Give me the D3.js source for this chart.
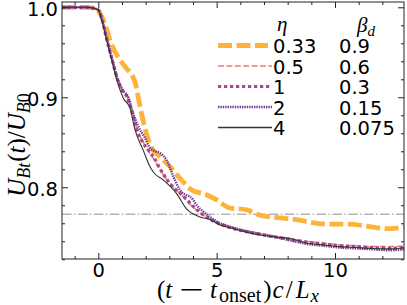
<!DOCTYPE html>
<html>
<head>
<meta charset="utf-8">
<script src="https://cdn.jsdelivr.net/npm/d3@7"></script>
<style>
  body { margin: 0; background: #fff; }
  svg text { fill: #000; }
</style>
</head>
<body>
<svg id="chart" width="407" height="305"></svg>
<script>
// values
var etaLabels = ["0.33", "0.5", "1", "2", "4"];
var betaLabels = ["0.9", "0.6", "0.3", "0.15", "0.075"];

var t033 = [-1.55, -0.5, -0.2, 0, 0.21, 0.57, 0.85, 1.13, 1.55, 1.76, 1.97, 2.18, 2.6, 3.03, 3.45, 4.01, 4.44, 5.0, 5.56, 6.27, 6.83, 7.68, 8.38, 9.23, 9.93, 10.6, 11.3, 12.2, 12.95];
var u033 = [1.0, 1.0, 0.999, 0.996, 0.986, 0.958, 0.944, 0.934, 0.917, 0.890, 0.866, 0.848, 0.834, 0.823, 0.810, 0.796, 0.793, 0.786, 0.777, 0.775, 0.769, 0.766, 0.764, 0.760, 0.759, 0.759, 0.757, 0.754, 0.756];

var t05 = [-1.55, -0.5, -0.2, 0, 0.15, 0.35, 0.57, 0.85, 1.0, 1.2, 1.4, 1.6, 1.9, 2.15, 2.35, 2.6, 3.0, 3.6, 4.0, 4.5, 5.0, 5.6, 6.2, 6.8, 7.4, 8.1, 8.8, 9.5, 10.2, 10.9, 11.6, 12.3, 12.95];
var u05 = [1.0, 1.0, 0.999, 0.997, 0.988, 0.967, 0.945, 0.919, 0.909, 0.902, 0.887, 0.867, 0.850, 0.839, 0.831, 0.820, 0.805, 0.789, 0.778, 0.768, 0.761, 0.756, 0.752, 0.749, 0.746, 0.743, 0.740, 0.738, 0.736, 0.735, 0.734, 0.734, 0.735];

var t1 = [-1.55, -0.5, -0.2, 0, 0.15, 0.35, 0.57, 0.85, 1.0, 1.2, 1.4, 1.6, 1.9, 2.15, 2.35, 2.6, 3.0, 3.6, 4.0, 4.5, 5.0, 5.6, 6.2, 6.8, 7.4, 8.1, 8.8, 9.5, 10.2, 10.9, 11.6, 12.3, 12.95];
var u1 = [1.0, 1.0, 0.999, 0.997, 0.987, 0.965, 0.943, 0.917, 0.908, 0.901, 0.886, 0.866, 0.849, 0.840, 0.833, 0.821, 0.805, 0.790, 0.779, 0.768, 0.761, 0.755, 0.751, 0.748, 0.745, 0.742, 0.739, 0.737, 0.735, 0.734, 0.733, 0.732, 0.733];

var t2 = [-1.55, -0.5, -0.2, 0, 0.15, 0.35, 0.57, 0.85, 1.06, 1.27, 1.45, 1.7, 1.95, 2.15, 2.32, 2.61, 2.89, 3.17, 3.45, 4.01, 4.16, 4.44, 5.0, 5.7, 6.3, 7.0, 7.6, 8.1, 8.8, 9.5, 10.2, 10.9, 11.6, 12.3, 12.95];
var u2 = [1.0, 1.0, 0.999, 0.997, 0.987, 0.966, 0.944, 0.918, 0.907, 0.900, 0.884, 0.867, 0.856, 0.845, 0.841, 0.838, 0.830, 0.812, 0.797, 0.786, 0.780, 0.773, 0.762, 0.755, 0.751, 0.747, 0.744, 0.741, 0.737, 0.735, 0.733, 0.732, 0.731, 0.730, 0.731];

var t4 = [-1.55, -0.5, -0.2, 0, 0.14, 0.35, 0.57, 0.78, 0.92, 1.06, 1.34, 1.55, 1.9, 2.18, 2.32, 2.75, 3.31, 3.73, 4.3, 4.73, 5.14, 5.7, 6.13, 6.83, 7.39, 8.1, 8.52, 8.8, 9.5, 10.2, 10.9, 11.6, 12.3, 12.95];
var u4 = [1.0, 1.0, 0.999, 0.997, 0.986, 0.964, 0.941, 0.919, 0.908, 0.899, 0.888, 0.864, 0.841, 0.823, 0.817, 0.808, 0.793, 0.776, 0.767, 0.764, 0.758, 0.754, 0.751, 0.747, 0.745, 0.743, 0.740, 0.738, 0.736, 0.734, 0.733, 0.732, 0.7315, 0.733];

var refLevel = 0.77;

var xMajor = [0, 5, 10];
var yMajor = [0.8, 0.9, 1.0];

var svg = d3.select("#chart"),
    mLeft = 62, mRight = 404, mTop = 2, mBottom = 259;

var x = d3.scaleLinear().domain([-1.534, 12.915]).range([mLeft, mRight]);
var y = d3.scaleLinear().domain([0.7203, 1.0059]).range([mBottom, mTop]);

var styles = [
  { color: "#fdb338", width: 4.8, dash: "14,4.5" },
  { color: "#ef7b6e", width: 1.6, dash: "6,2.4" },
  { color: "#a9468d", width: 3.2, dash: "3.2,2.8" },
  { color: "#6b3a98", width: 2.4, dash: "1.4,1" },
  { color: "#333333", width: 1.1, dash: null }
];

var series = [
  { t: t033, u: u033 },
  { t: t05, u: u05 },
  { t: t1, u: u1 },
  { t: t2, u: u2 },
  { t: t4, u: u4 }
];

svg.append("clipPath").attr("id", "clip")
  .append("rect").attr("x", mLeft).attr("y", mTop)
  .attr("width", mRight - mLeft).attr("height", mBottom - mTop);

var font = "'DejaVu Sans', sans-serif";
var mathFont = "'Liberation Serif', 'DejaVu Serif', serif";

// reference level
svg.append("line")
  .attr("x1", mLeft).attr("x2", mRight)
  .attr("y1", y(refLevel)).attr("y2", y(refLevel))
  .attr("stroke", "#b5b5b5").attr("stroke-width", 1.5)
  .attr("stroke-dasharray", "9.6,2.4,1.5,2.4");

var line = d3.line()
  .x(function(d) { return x(d[0]); })
  .y(function(d) { return y(d[1]); })
  .curve(d3.curveMonotoneX);

var plot = svg.append("g").attr("clip-path", "url(#clip)");

// draw back to front so the thick one is underneath
series.forEach(function(s, i) {
  var pts = s.t.map(function(v, j) { return [v, s.u[j]]; });
  plot.append("path")
    .datum(pts)
    .attr("d", line)
    .attr("fill", "none")
    .attr("stroke", styles[i].color)
    .attr("stroke-width", styles[i].width)
    .attr("stroke-dasharray", styles[i].dash);
});

// axes, ticks pointing in
function inward(axis, g, vals, size, labels) {
  axis.tickValues(vals).tickSize(size).tickPadding(4);
  if (!labels) axis.tickFormat("");
  g.call(axis);
  g.select(".domain").remove();
  g.selectAll(".tick line").attr("stroke", "#222").attr("stroke-width", 1);
  g.selectAll(".tick text").style("font-family", font).style("font-size", "19.5px").attr("fill", "#000");
}

var xMinor = d3.range(-1, 13, 1).filter(function(v) { return xMajor.indexOf(v) < 0; });
var yMinor = d3.range(0.72, 1.005, 0.02).map(function(v) { return +v.toFixed(2); })
  .filter(function(v) { return yMajor.indexOf(v) < 0; });

var gxB = svg.append("g").attr("transform", "translate(0," + mBottom + ")");
inward(d3.axisBottom(x).tickFormat(d3.format("d")), gxB, xMajor, -6, true);
var gxB2 = svg.append("g").attr("transform", "translate(0," + mBottom + ")");
inward(d3.axisBottom(x), gxB2, xMinor, -3, false);
var gxT = svg.append("g").attr("transform", "translate(0," + mTop + ")");
inward(d3.axisTop(x), gxT, xMajor, -6, false);
var gxT2 = svg.append("g").attr("transform", "translate(0," + mTop + ")");
inward(d3.axisTop(x), gxT2, xMinor, -3, false);

var gyL = svg.append("g").attr("transform", "translate(" + mLeft + ",0)");
inward(d3.axisLeft(y).tickFormat(d3.format(".1f")), gyL, yMajor, -6, true);
gyL.selectAll(".tick text").attr("dy", "0.44em");
var gyL2 = svg.append("g").attr("transform", "translate(" + mLeft + ",0)");
inward(d3.axisLeft(y), gyL2, yMinor, -3, false);
var gyR = svg.append("g").attr("transform", "translate(" + mRight + ",0)");
inward(d3.axisRight(y), gyR, yMajor, -6, false);
var gyR2 = svg.append("g").attr("transform", "translate(" + mRight + ",0)");
inward(d3.axisRight(y), gyR2, yMinor, -3, false);

svg.append("rect")
  .attr("x", mLeft).attr("y", mTop)
  .attr("width", mRight - mLeft).attr("height", mBottom - mTop)
  .attr("fill", "none").attr("stroke", "#222").attr("stroke-width", 1);

// axis labels
var yl = svg.append("text")
  .attr("transform", "translate(25,145) rotate(-90)")
  .attr("text-anchor", "middle")
  .style("font-family", mathFont).style("font-size", "25px");
yl.append("tspan").style("font-style", "italic").text("U");
yl.append("tspan").style("font-style", "italic").style("font-size", "18px").attr("dy", 5).text("Bt");
yl.append("tspan").attr("dy", -5).attr("dx", 1).text("(");
yl.append("tspan").style("font-style", "italic").text("t");
yl.append("tspan").text(")/");
yl.append("tspan").style("font-style", "italic").text("U");
yl.append("tspan").style("font-style", "italic").style("font-size", "18px").attr("dy", 5).text("B");
yl.append("tspan").style("font-size", "18px").text("0");

var xl = svg.append("text")
  .attr("x", 157).attr("y", 298)
  .style("font-family", mathFont).style("font-size", "25px");
xl.append("tspan").text("(");
xl.append("tspan").style("font-style", "italic").text("t");
xl.append("tspan").attr("dx", 6).style("font-size", "32px").style("font-family", font).style("font-weight", "200").attr("dy", 2).text("\u2212");
xl.append("tspan").attr("dx", 5).attr("dy", -2).style("font-style", "italic").text("t");
xl.append("tspan").style("font-size", "20px").attr("dx", 2).attr("dy", 4).text("onset");
xl.append("tspan").attr("dx", 2).attr("dy", -4).text(")");
xl.append("tspan").attr("dx", 1).style("font-style", "italic").text("c");
xl.append("tspan").attr("dx", 2).text("/");
xl.append("tspan").attr("dx", 3).style("font-style", "italic").text("L");
xl.append("tspan").style("font-style", "italic").style("font-size", "19px").attr("dx", 1).attr("dy", 4).text("x");

// legend
var legend = svg.append("g");
legend.append("text").attr("x", 277).attr("y", 31)
  .style("font-family", mathFont).style("font-style", "italic").style("font-size", "21px").text("\u03b7");
var bd = legend.append("text").attr("x", 357).attr("y", 32)
  .style("font-family", mathFont).style("font-style", "italic").style("font-size", "21px");
bd.append("tspan").text("\u03b2");
bd.append("tspan").style("font-size", "15px").attr("dy", 4).text("d");

var rowY = d3.scaleLinear().domain([0, 4]).range([45.5, 127.5]);
etaLabels.forEach(function(lab, i) {
  var yy = rowY(i);
  legend.append("line")
    .attr("x1", 218).attr("x2", i === 0 ? 268 : 272)
    .attr("y1", yy).attr("y2", yy)
    .attr("stroke", styles[i].color)
    .attr("stroke-width", i === 4 ? 1.6 : styles[i].width)
    .attr("stroke-dasharray", styles[i].dash);
  legend.append("text").attr("x", 273).attr("y", yy + 7.5)
    .style("font-family", font).style("font-size", "19.5px").text(lab);
  legend.append("text").attr("x", 339).attr("y", yy + 7.5)
    .style("font-family", font).style("font-size", "19.5px").text(betaLabels[i]);
});
</script>
</body>
</html>
